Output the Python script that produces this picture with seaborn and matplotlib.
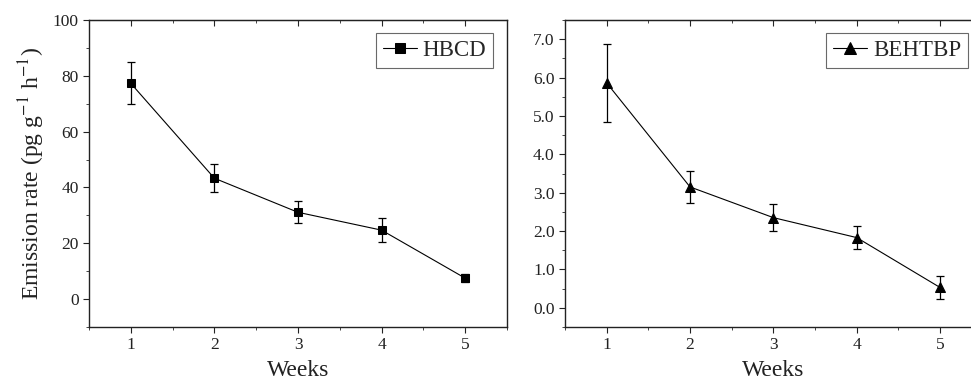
"""
Emission rate of HBCD and BEHTBP over five weeks, two panels.
"""

import numpy as np  # arrays
import pandas as pd  # tables for seaborn
import matplotlib
matplotlib.use("Agg")  # no display
import matplotlib.pyplot as plt  # plotting
from matplotlib.ticker import MultipleLocator, FormatStrFormatter  # tick control
import seaborn as sns  # line plots

# Data
weeks = [1, 2, 3, 4, 5]
hbcd_rate = [77.3, 43.3, 31.1, 24.7, 7.5]
hbcd_err = [7.5, 5.0, 4.0, 4.3, 1.5]
behtbp_rate = [5.86, 3.15, 2.35, 1.83, 0.53]
behtbp_err = [1.02, 0.41, 0.36, 0.30, 0.31]

sns.set_style("ticks")
plt.rcParams['font.family'] = ['Liberation Serif', 'DejaVu Serif']
plt.rcParams['mathtext.fontset'] = 'stix'

fig = plt.figure(figsize=(9.71, 3.83), dpi=100)
W, H = 971.0, 383.0
ax1 = fig.add_axes([89 / W, (H - 327) / H, (507 - 89) / W, 307 / H])
ax2 = fig.add_axes([565 / W, (H - 327) / H, 416.7 / W, 307 / H])

panels = [
    (ax1, hbcd_rate, hbcd_err, 'HBCD', 's', 6, (-10, 100), 20, 10, '%d'),
    (ax2, behtbp_rate, behtbp_err, 'BEHTBP', '^', 7.5, (-0.5, 7.5), 1.0, 0.5, '%.1f'),
]

for ax, rate, err, name, marker, msize, ylim, major, minor, fmt in panels:
    df = pd.DataFrame({'Weeks': weeks, 'rate': rate})
    # error bars first, then the line and markers on top
    ax.errorbar(weeks, rate, yerr=err, fmt='none', ecolor='black',
                elinewidth=0.9, capsize=3, capthick=0.9, zorder=2)
    sns.lineplot(data=df, x='Weeks', y='rate', ax=ax, color='black',
                 linewidth=0.8, marker=marker, markersize=msize,
                 markeredgecolor='black', markerfacecolor='black',
                 label=name, zorder=3)

    ax.set_xlim(0.5, 5.5)
    ax.set_ylim(*ylim)
    ax.xaxis.set_major_locator(MultipleLocator(1))
    ax.xaxis.set_minor_locator(MultipleLocator(0.5))
    ax.yaxis.set_major_locator(MultipleLocator(major))
    ax.yaxis.set_minor_locator(MultipleLocator(minor))
    ax.yaxis.set_major_formatter(FormatStrFormatter(fmt))
    ax.tick_params(which='major', direction='out', length=4, width=0.8,
                   labelsize=12.5, colors='#222222')
    ax.tick_params(which='minor', direction='out', length=2, width=0.6)
    for s in ax.spines.values():
        s.set_linewidth(1.0)
        s.set_color('#222222')

    # ticks along the top edge, pointing inward
    top = ax.secondary_xaxis('top')
    top.xaxis.set_major_locator(MultipleLocator(1))
    top.xaxis.set_minor_locator(MultipleLocator(0.5))
    top.tick_params(which='major', direction='in', length=4, width=0.8, labeltop=False)
    top.tick_params(which='minor', direction='in', length=2, width=0.6)

    ax.set_xlabel('Weeks', fontsize=17, color='#222222', labelpad=5)
    ax.set_ylabel('')

    leg = ax.legend(loc='upper right', bbox_to_anchor=(0.967, 0.958),
                    fontsize=16.5, frameon=True, fancybox=False,
                    handlelength=1.5, handletextpad=0.25, borderpad=0.3,
                    borderaxespad=0.0, markerscale=1.2)
    leg.get_frame().set_edgecolor('#444444')
    leg.get_frame().set_linewidth(0.8)

ax1.set_ylabel(r'Emission rate (pg g$^{-1}$ h$^{-1}$)', fontsize=17, color='#222222')

fig.savefig('out.png', dpi=100)
